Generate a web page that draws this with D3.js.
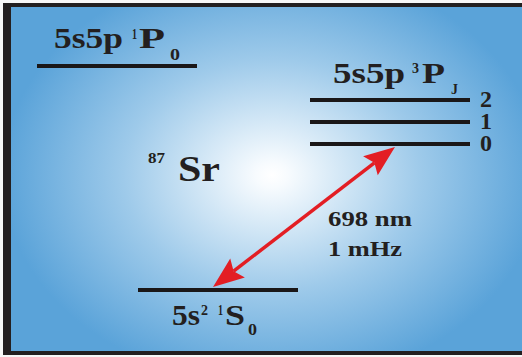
<!DOCTYPE html>
<html><head><meta charset="utf-8">
<script src="https://cdn.jsdelivr.net/npm/d3@7"></script>
<style>html,body{margin:0;padding:0;background:#f7f7f7;}svg{display:block;}</style>
</head><body>
<script>
// ---- data ----
const levelNames = ["5s5p 1P0", "5s5p 3P2", "5s5p 3P1", "5s5p 3P0", "5s2 1S0"];
const levelEnergy = [10, 8.48, 7.5, 6.52, 0];       // schematic energy (diagram units)
const levelColumn = ["left", "right", "right", "right", "mid"];
const jLabels = ["2", "1", "0"];
const jEnergy = [8.48, 7.5, 6.52];
const transition = { from: 0, to: 6.52, wavelength: "698 nm", linewidth: "1 mHz" };
const isotope = ["87", "Sr"];

// ---- layout ----
const W = 522, H = 357;
const FONT = '"Liberation Serif", "Times New Roman", serif';
const svg = d3.select("body").append("svg").attr("width", W).attr("height", H);
const y = d3.scaleLinear().domain([0, 10]).range([290, 66]);
const colStart = { left: 37, mid: 138, right: 310 };
const levelWidth = 160;

const defs = svg.append("defs");
const grad = defs.append("radialGradient").attr("id", "bg")
  .attr("gradientUnits", "userSpaceOnUse")
  .attr("cx", 272).attr("cy", 175).attr("r", 270)
  .attr("gradientTransform", "translate(272,175) scale(1,0.78) translate(-272,-175)");
grad.append("stop").attr("offset", 0).attr("stop-color", "#ffffff");
grad.append("stop").attr("offset", 0.06).attr("stop-color", "#f7fbfe");
grad.append("stop").attr("offset", 0.55).attr("stop-color", "#9ecaea");
grad.append("stop").attr("offset", 1).attr("stop-color", "#5aa3d9");

svg.append("rect").attr("x", 3).attr("y", 3).attr("width", W + 10).attr("height", 352).attr("fill", "#231f20");
svg.append("rect").attr("x", 11).attr("y", 7).attr("width", W + 10).attr("height", 344).attr("fill", "url(#bg)");

// levels
svg.selectAll("line.level").data(levelNames).join("line").attr("class", "level")
  .attr("x1", (d, i) => colStart[levelColumn[i]])
  .attr("x2", (d, i) => colStart[levelColumn[i]] + levelWidth)
  .attr("y1", (d, i) => y(levelEnergy[i]))
  .attr("y2", (d, i) => y(levelEnergy[i]))
  .attr("stroke", "#1a1718").attr("stroke-width", 4);

const ink = "#231f20";
function piece(t, x, yy, size, w) {
  svg.append("text").attr("x", x).attr("y", yy)
    .style("font-family", FONT)
    .style("font-weight", "bold").style("font-size", size + "px").attr("fill", ink)
    .attr("textLength", w).attr("lengthAdjust", "spacingAndGlyphs")
    .text(t);
}
// 1P label
piece("5s5p", 54, 48, 29, 69);
piece("1", 132, 39, 15, 5);
piece("P", 139, 48, 29, 26);
piece("0", 170, 60, 16, 10);
// 3P label
piece("5s5p", 333, 83, 29, 72);
piece("3", 412, 73, 15, 7);
piece("P", 422, 83, 29, 23);
piece("J", 451, 94, 14, 7);
// J labels (one text block, one line per level)
svg.append("text").style("font-family", FONT).style("font-weight", "bold")
  .style("font-size", "24px").attr("fill", ink)
  .selectAll("tspan").data(jLabels).join("tspan")
  .attr("x", 480).attr("y", (d, i) => y(jEnergy[i]) + 7).text(d => d);
// isotope
piece(isotope[0], 148, 163, 15, 17);
piece(isotope[1], 178, 181, 35, 42);
// transition text
piece(transition.wavelength, 328, 226, 20, 84);
piece(transition.linewidth, 328, 256, 20, 74);
// 1S label
piece("5s", 172, 325, 29, 28);
piece("2", 201, 315, 15, 7);
piece("1", 218, 315, 15, 5);
piece("S", 225, 325, 29, 20);
piece("0", 248, 335, 16, 9);

// arrow
const p0 = [213, y(transition.from) - 3], p1 = [395, y(transition.to) + 3];
const red = "#e31e24";
const dx = p1[0] - p0[0], dy = p1[1] - p0[1], L = Math.hypot(dx, dy);
const ux = dx / L, uy = dy / L, nx = -uy, ny = ux;
const hl = 31, hw = 12, notch = 5;
svg.append("line")
  .attr("x1", p0[0] + ux * (hl - notch)).attr("y1", p0[1] + uy * (hl - notch))
  .attr("x2", p1[0] - ux * (hl - notch)).attr("y2", p1[1] - uy * (hl - notch))
  .attr("stroke", red).attr("stroke-width", 3.5);
function head(tip, dir) {
  const [tx, ty] = tip, [ex, ey] = dir;
  const bx = tx - ex * hl, by = ty - ey * hl;
  const pts = [[tx, ty], [bx + nx * hw, by + ny * hw], [tx - ex * (hl - notch), ty - ey * (hl - notch)], [bx - nx * hw, by - ny * hw]];
  svg.append("path").attr("d", d3.line()(pts) + "Z").attr("fill", red);
}
head(p1, [ux, uy]);
head(p0, [-ux, -uy]);
</script>
</body></html>
